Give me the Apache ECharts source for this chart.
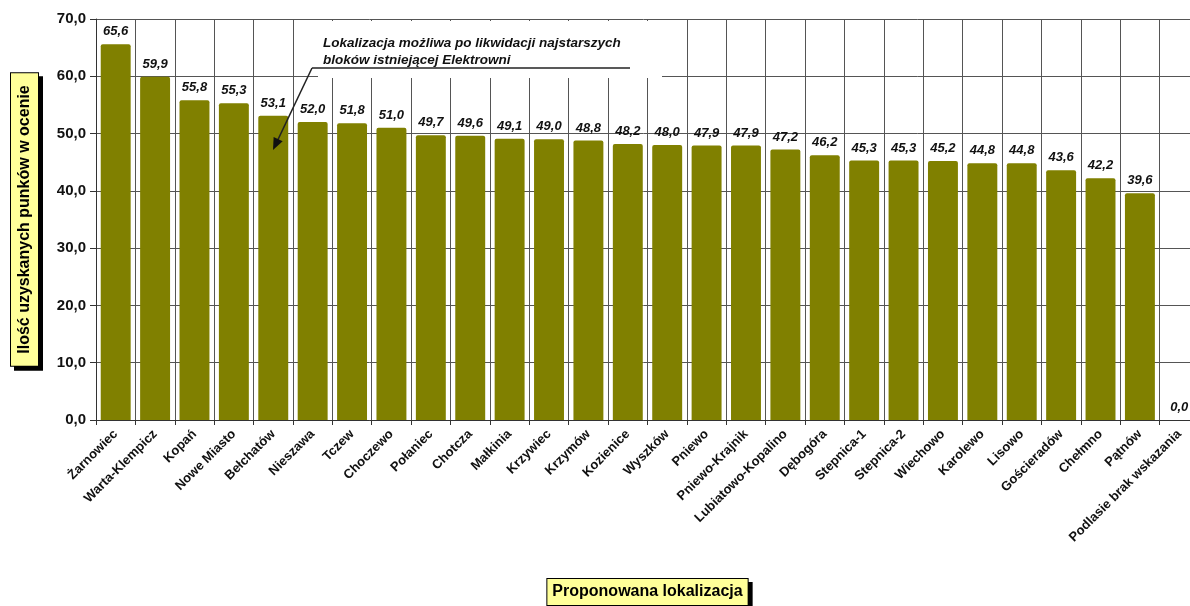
<!DOCTYPE html>
<html>
<head>
<meta charset="utf-8">
<script src="https://cdn.jsdelivr.net/npm/echarts@6/dist/echarts.min.js"></script>
<style>
html,body{margin:0;padding:0;background:#fff;}
#chart{width:1190px;height:606px;}
</style>
</head>
<body>
<div id="chart"></div>
<script>
const categories = ['Żarnowiec','Warta-Klempicz','Kopań','Nowe Miasto','Bełchatów','Nieszawa','Tczew','Choczewo','Połaniec','Chotcza','Małkinia','Krzywiec','Krzymów','Kozienice','Wyszków','Pniewo','Pniewo-Krajnik','Lubiatowo-Kopalino','Dębogóra','Stepnica-1','Stepnica-2','Wiechowo','Karolewo','Lisowo','Gościeradów','Chełmno','Pątnów','Podlasie brak wskazania'];
const values = [65.6,59.9,55.8,55.3,53.1,52.0,51.8,51.0,49.7,49.6,49.1,49.0,48.8,48.2,48.0,47.9,47.9,47.2,46.2,45.3,45.3,45.2,44.8,44.8,43.6,42.2,39.6,0.0];
const yTicks = [0,10,20,30,40,50,60,70];
const yTitle = 'Ilość uzyskanych punków w ocenie';
const xTitle = 'Proponowana lokalizacja';
const noteLines = ['Lokalizacja możliwa po likwidacji najstarszych','bloków istniejącej Elektrowni'];

const FONT = '"Liberation Sans", Arial, sans-serif';
const fmt = v => Number(v).toFixed(1).replace('.', ',');

const chart = echarts.init(document.getElementById('chart'));

// arrow geometry
const ax0 = 312, ay0 = 68, ax1 = 273, ay1 = 150;
const dx = ax1 - ax0, dy = ay1 - ay0, L = Math.hypot(dx, dy);
const ux = dx / L, uy = dy / L, px = -uy, py = ux;
const hl = 12, hw = 5;
const headPts = [[ax1, ay1],[ax1 - ux*hl + px*hw, ay1 - uy*hl + py*hw],[ax1 - ux*hl - px*hw, ay1 - uy*hl - py*hw]];

chart.setOption({
  animation: false,
  backgroundColor: '#fff',
  grid: { left: 96, right: -9, top: 19, bottom: 186, containLabel: false, outerBoundsMode: 'none' },
  xAxis: {
    type: 'category',
    data: categories,
    boundaryGap: true,
    name: xTitle,
    nameLocation: 'middle',
    nameGap: 159,
    nameTextStyle: {
      fontFamily: FONT, fontWeight: 'bold', fontSize: 16, color: '#000',
      backgroundColor: '#ffff99', borderColor: '#000', borderWidth: 1,
      padding: [5, 5, 5, 5],
      shadowColor: '#000', shadowOffsetX: 4, shadowOffsetY: 4, shadowBlur: 0
    },
    axisLine: { show: true, lineStyle: { color: '#333', width: 1 } },
    axisTick: { show: true, length: 5, interval: 0, lineStyle: { color: '#333' } },
    splitLine: { show: true, interval: 0, lineStyle: { color: '#555', width: 1 } },
    axisLabel: {
      interval: 0, rotate: 45, margin: 12,
      fontFamily: FONT, fontWeight: 'bold', fontSize: 13, color: '#111'
    }
  },
  yAxis: {
    type: 'value',
    min: yTicks[0], max: yTicks[yTicks.length - 1], interval: 10,
    name: yTitle,
    nameLocation: 'middle',
    nameRotate: 90,
    nameGap: 58,
    nameTextStyle: {
      fontFamily: FONT, fontWeight: 'bold', fontSize: 16, color: '#000',
      backgroundColor: '#ffff99', borderColor: '#000', borderWidth: 1,
      padding: [6, 12, 5, 12],
      shadowColor: '#000', shadowOffsetX: 4, shadowOffsetY: 4, shadowBlur: 0
    },
    axisLine: { show: true, lineStyle: { color: '#333', width: 1 } },
    axisTick: { show: true, length: 6, lineStyle: { color: '#333' } },
    splitLine: { show: true, lineStyle: { color: '#555', width: 1 } },
    axisLabel: {
      margin: 10, formatter: v => fmt(v),
      fontFamily: FONT, fontWeight: 'bold', fontSize: 15, color: '#111'
    }
  },
  series: [{
    type: 'bar',
    data: values,
    barCategoryGap: '24%',
    itemStyle: { color: '#808000', borderRadius: [2, 2, 0, 0] },
    label: {
      show: true, position: 'top', distance: 6,
      formatter: p => fmt(p.value),
      fontFamily: FONT, fontWeight: 'bold', fontStyle: 'italic', fontSize: 13, color: '#111'
    }
  }],
  graphic: [
    { type: 'rect', z: 5, shape: { x: 318, y: 21, width: 344, height: 57 }, style: { fill: '#fff' } },
    { type: 'text', z: 6, x: 323, y: 35, style: { text: noteLines.join('\n'), fill: '#111', font: 'italic bold 13.5px ' + FONT, lineHeight: 17 } },
    { type: 'line', z: 6, shape: { x1: 312, y1: 68, x2: 630, y2: 68 }, style: { stroke: '#222', lineWidth: 1.5 } },
    { type: 'line', z: 6, shape: { x1: ax0, y1: ay0, x2: ax1 - ux*hl*0.8, y2: ay1 - uy*hl*0.8 }, style: { stroke: '#222', lineWidth: 1.5 } },
    { type: 'polygon', z: 6, shape: { points: headPts }, style: { fill: '#111' } }
  ]
});
</script>
</body>
</html>
